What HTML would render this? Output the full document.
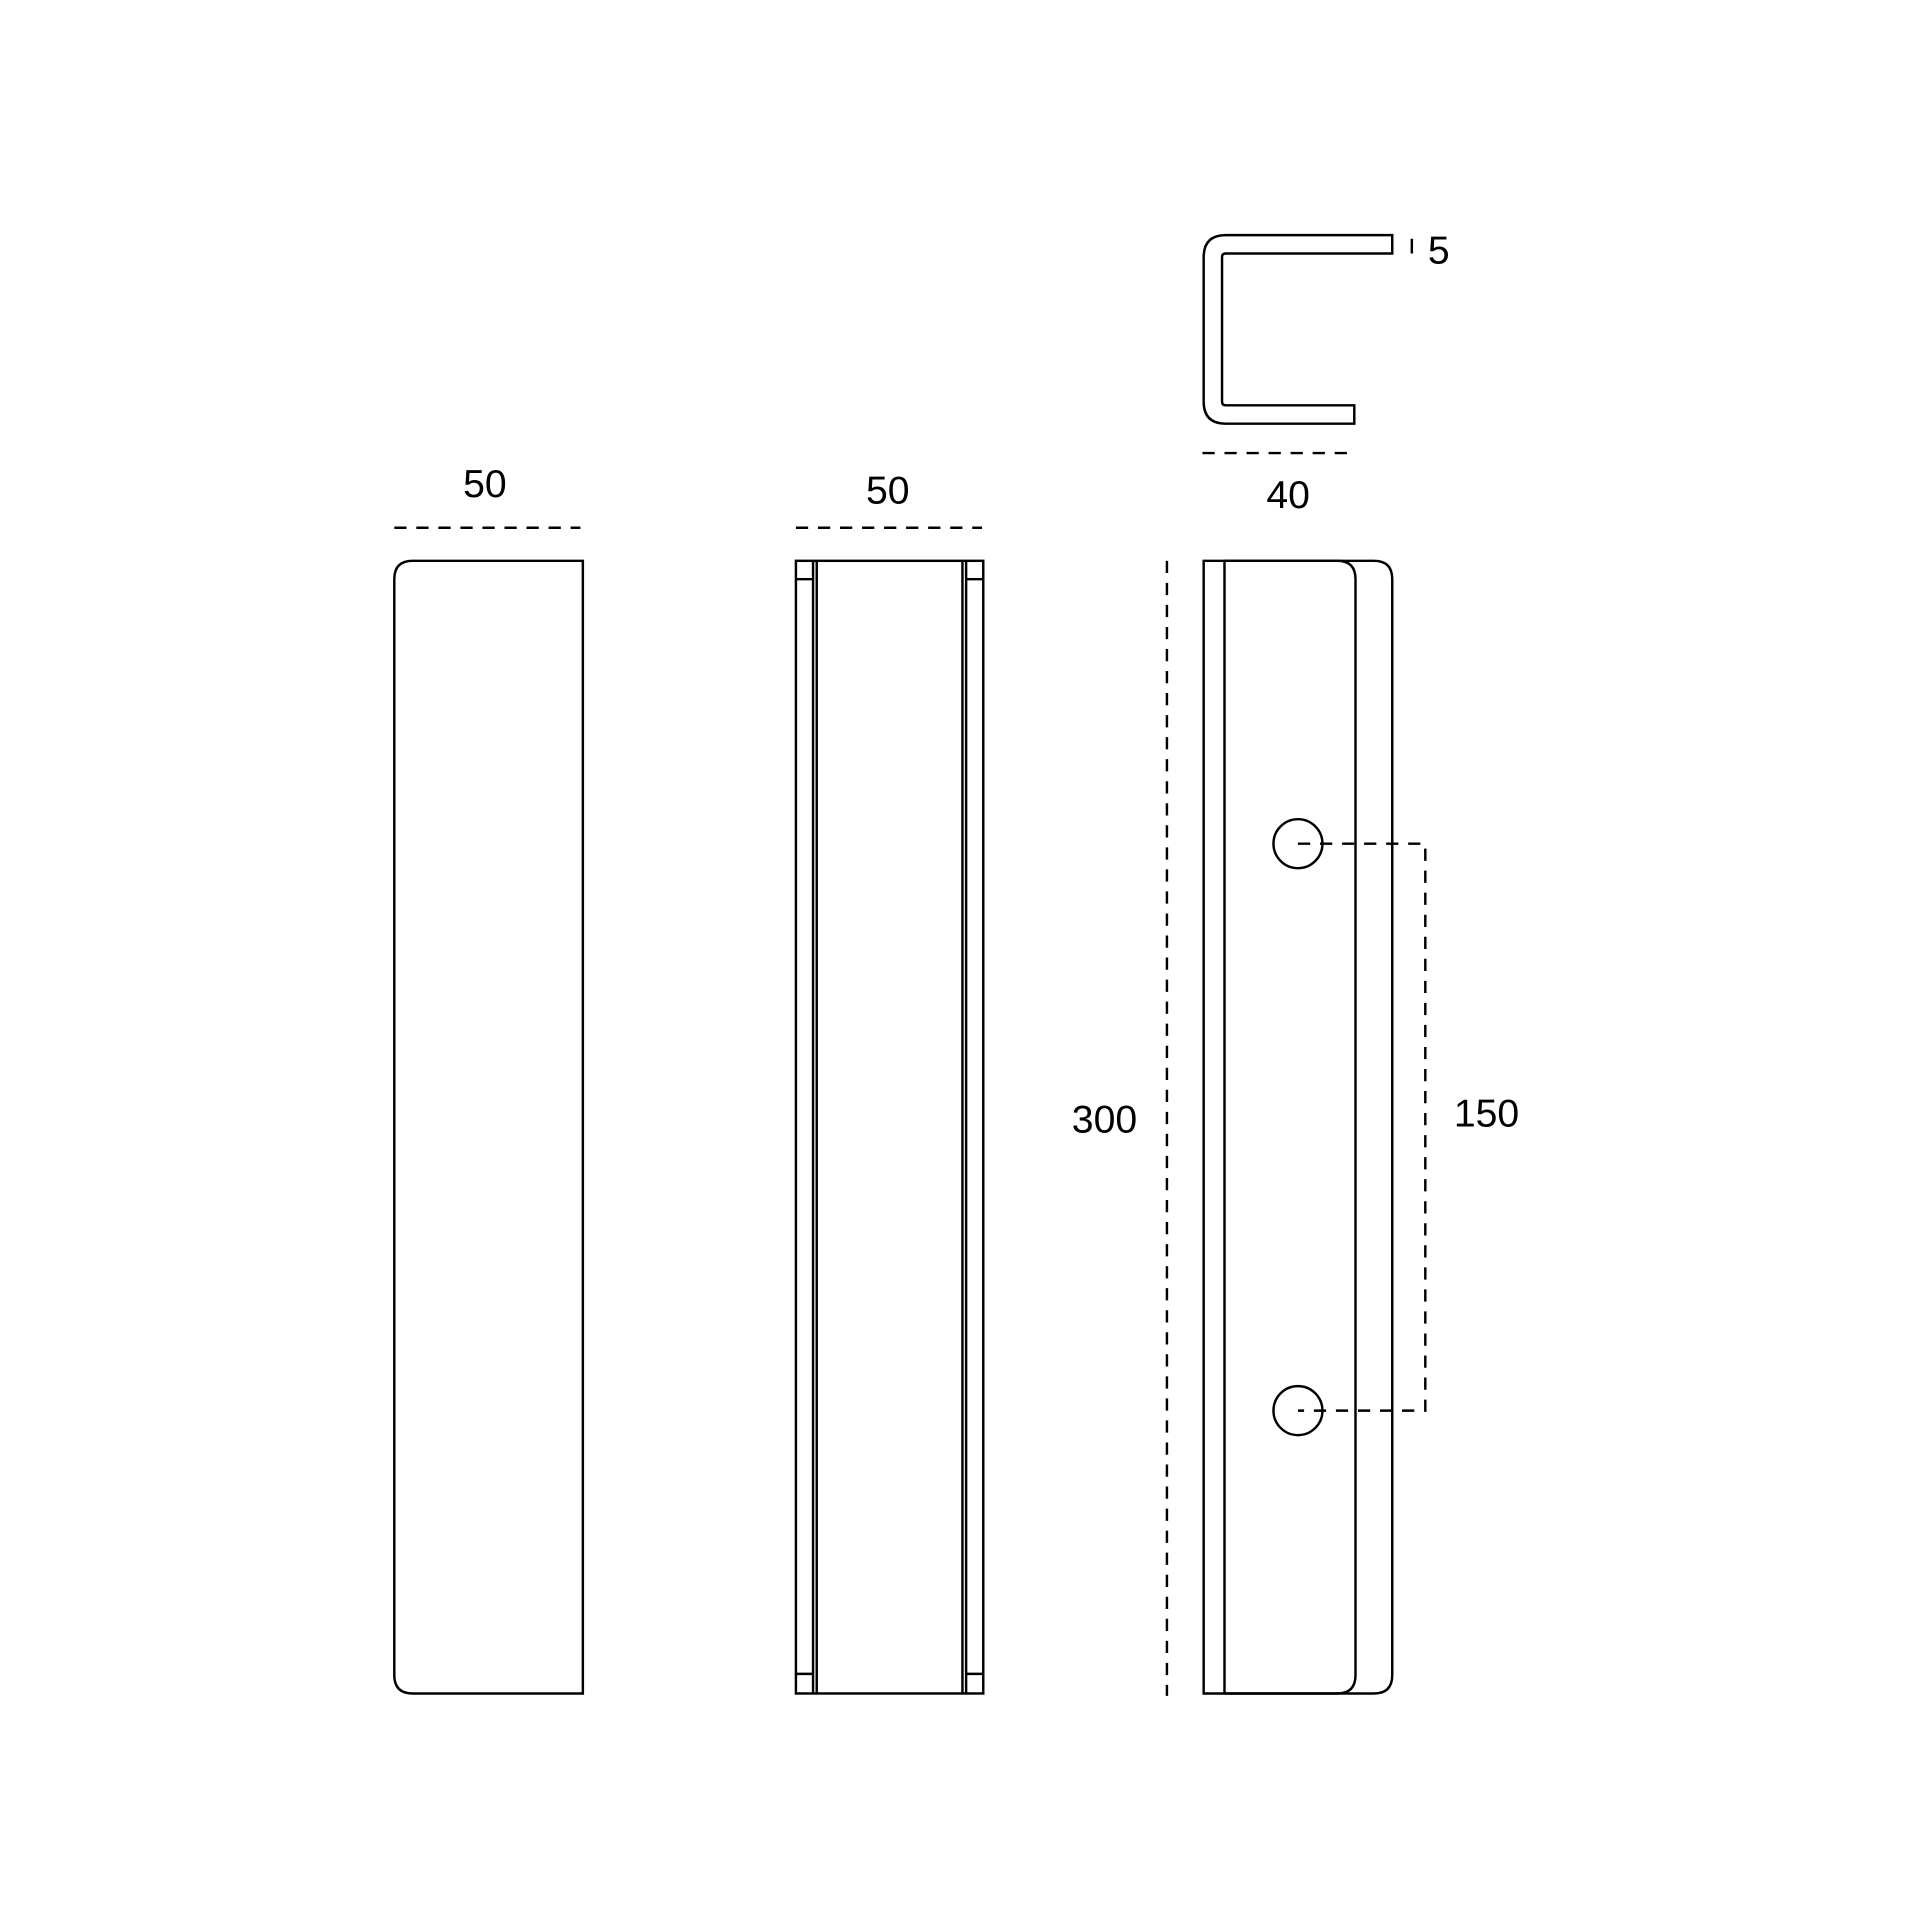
<!DOCTYPE html>
<html><head><meta charset="utf-8"><style>html,body{margin:0;padding:0;background:#fff}svg{display:block}</style></head>
<body>
<svg width="1920" height="1920" viewBox="0 0 1568 1568" xmlns="http://www.w3.org/2000/svg">
<g fill="none" stroke="#000" stroke-width="2">
<!-- left -->
<path d="M337 458 H476 V1383 H337 Q322 1383 322 1368 V473 Q322 458 337 458 Z"/>
<!-- middle -->
<rect x="650" y="458" width="153" height="925"/>
<line x1="664" y1="458" x2="664" y2="1383"/>
<line x1="667" y1="458" x2="667" y2="1383"/>
<line x1="786" y1="458" x2="786" y2="1383"/>
<line x1="789" y1="458" x2="789" y2="1383"/>
<line x1="650" y1="473" x2="664" y2="473"/>
<line x1="789" y1="473" x2="803" y2="473"/>
<line x1="650" y1="1367" x2="664" y2="1367"/>
<line x1="789" y1="1367" x2="803" y2="1367"/>
<!-- right -->
<path d="M983 458 H1122 Q1137 458 1137 473 V1368 Q1137 1383 1122 1383 H983 Z"/>
<line x1="1000" y1="458" x2="1000" y2="1383"/>
<path d="M1000 458 H1092 Q1107 458 1107 473 V1368 Q1107 1383 1092 1383 H1000"/>
<circle cx="1060" cy="689" r="20"/>
<circle cx="1060" cy="1152" r="20"/>
<!-- C profile -->
<path d="M1137 192 H1001 Q983 192 983 210 V328 Q983 346 1001 346 H1106 V331 H1001 Q998 331 998 328 V210 Q998 207 1001 207 H1137 Z"/>
<line x1="1153" y1="195" x2="1153" y2="207"/>
</g>
<g fill="none" stroke="#000" stroke-width="2" stroke-dasharray="10,8">
<line x1="322" y1="431" x2="474" y2="431"/>
<line x1="650" y1="431" x2="802" y2="431"/>
<line x1="982" y1="370" x2="1107" y2="370"/>
<line x1="953" y1="458" x2="953" y2="1385"/>
<path d="M1060 689 H1164 V1152 H1060"/>
</g>
<g font-family="Liberation Sans, sans-serif" font-size="32" text-anchor="middle" fill="#000">
<text x="396" y="406">50</text>
<text x="725" y="411">50</text>
<text x="1052" y="415">40</text>
<text x="1175" y="215">5</text>
<text x="902" y="925">300</text>
<text x="1214" y="920">150</text>
</g>
</svg>
</body></html>
